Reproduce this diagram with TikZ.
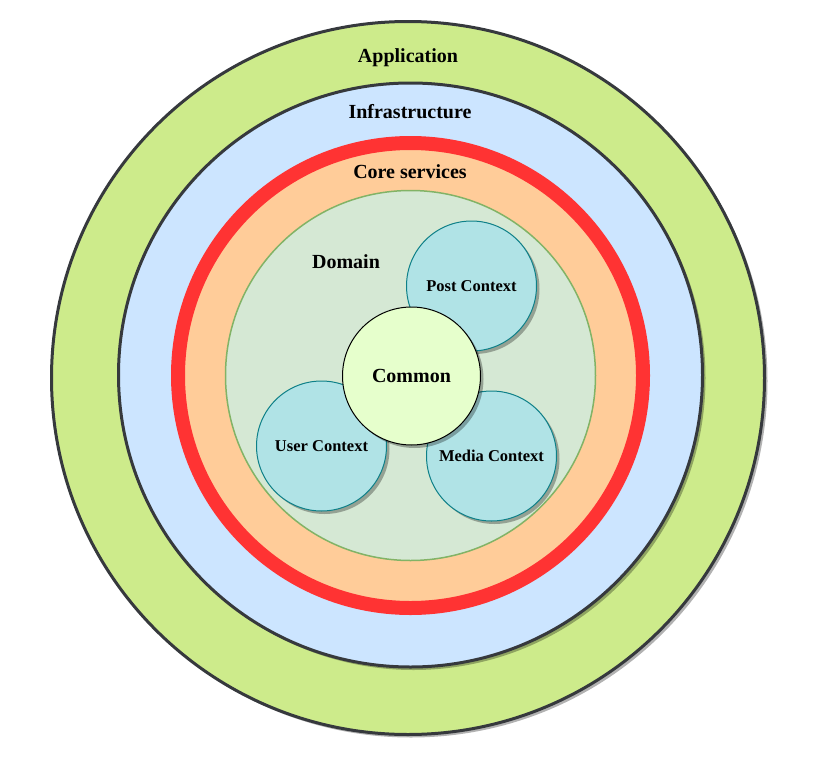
\documentclass[tikz,border=0pt]{standalone}
\usepackage{fontspec}
\setmainfont{Liberation Serif}
\usetikzlibrary{shadows}
\definecolor{appfill}{HTML}{CDEB8B}
\definecolor{infrafill}{HTML}{CCE5FF}
\definecolor{corefill}{HTML}{FFCC99}
\definecolor{corered}{HTML}{FF3333}
\definecolor{domfill}{HTML}{D5E8D4}
\definecolor{domline}{HTML}{82B366}
\definecolor{ctxfill}{HTML}{B0E3E6}
\definecolor{ctxline}{HTML}{0E8088}
\definecolor{comfill}{HTML}{E6FFCC}
\definecolor{darkline}{HTML}{36393D}
\tikzset{
  ring/.style={circle, inner sep=0pt, outer sep=0pt},
  shad/.style={drop shadow={shadow xshift=3pt, shadow yshift=-3pt, opacity=0.3, fill=black}},
  bigtxt/.style={font=\bfseries\fontsize{20}{24}\selectfont, inner sep=0pt},
  smalltxt/.style={font=\bfseries\fontsize{16.5}{20}\selectfont},
}
\begin{document}
\begin{tikzpicture}[x=1pt,y=-1pt]
\useasboundingbox (0,0) rectangle (825,763);
\node[ring, shad, fill=appfill, draw=darkline, line width=3pt, minimum size=713pt] (app) at (408,378) {};
\node[ring, shad, fill=infrafill, draw=darkline, line width=3pt, minimum size=584pt] (infra) at (410.5,375) {};
\node[ring, shad, fill=corefill, draw=corered, line width=14pt, minimum size=465pt] (core) at (410.5,375.5) {};
\node[ring, fill=domfill, draw=domline, line width=1.5pt, minimum size=370pt] (dom) at (410.5,375.5) {};
\node[ring, shad, fill=ctxfill, draw=ctxline, line width=1pt, minimum size=130pt, smalltxt] (post) at (471.5,286) {Post Context};
\node[ring, shad, fill=ctxfill, draw=ctxline, line width=1pt, minimum size=130pt, smalltxt] (user) at (321.5,446) {User Context};
\node[ring, shad, fill=ctxfill, draw=ctxline, line width=1pt, minimum size=130pt, smalltxt] (media) at (491.5,456) {Media Context};
\node[ring, shad, fill=comfill, draw=black, line width=1pt, minimum size=138pt, bigtxt] (common) at (411.5,376) {Common};
\node[bigtxt] (applbl) at (408,58) {Application};
\node[bigtxt] (infralbl) at (410,112) {Infrastructure};
\node[bigtxt] (corelbl) at (410,172) {Core services};
\node[bigtxt] (domlbl) at (346,262) {Domain};
\end{tikzpicture}
\end{document}
